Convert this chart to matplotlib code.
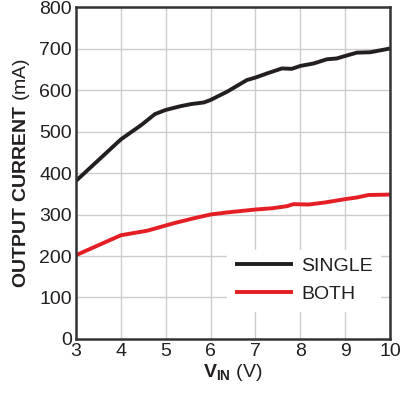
import matplotlib
matplotlib.use("Agg")
import matplotlib.pyplot as plt

plt.rcParams['font.family'] = ['Liberation Sans', 'DejaVu Sans']
plt.rcParams['mathtext.fontset'] = 'custom'
plt.rcParams['mathtext.rm'] = 'Liberation Sans'
plt.rcParams['mathtext.bf'] = 'Liberation Sans:bold'

single_v = [3.0, 4.0, 4.46, 4.76, 5.0, 5.33, 5.56, 5.85, 6.0, 6.37, 6.81, 7.0, 7.26, 7.59, 7.81, 8.0, 8.3, 8.59, 8.81, 9.0, 9.26, 9.56, 10.0]
single_i = [381, 481, 516, 542, 552, 561, 566, 570, 576, 596, 624, 630, 640, 652, 651, 658, 664, 674, 676, 682, 690, 691, 700]

both_v = [3.0, 4.0, 4.59, 5.18, 5.63, 6.0, 6.37, 7.0, 7.37, 7.7, 7.85, 8.18, 8.55, 9.0, 9.26, 9.52, 10.0]
both_i = [202, 250, 261, 279, 291, 300, 305, 312, 315, 320, 325, 324, 329, 337, 341, 347, 348]

xticks = [3, 4, 5, 6, 7, 8, 9, 10]
yticks = [0, 100, 200, 300, 400, 500, 600, 700, 800]

fig = plt.figure(figsize=(4.0, 3.94), dpi=100)
ax = fig.add_axes([0.19, 0.1396, 0.785, 0.8426])

ax.plot(single_v, single_i, color='#231f20', lw=2.8, label='SINGLE', solid_capstyle='butt')
ax.plot(both_v, both_i, color='#e31e24', lw=2.8, label='BOTH', solid_capstyle='butt')

ax.set_xlim(3, 10)
ax.set_ylim(0, 800)
ax.set_xticks(xticks)
ax.set_yticks(yticks)
ax.tick_params(length=0, labelsize=14, colors='#231f20', pad=3)
ax.grid(True, color='#cccccc', lw=1.0)
ax.set_axisbelow(True)
for s in ax.spines.values():
    s.set_color('#333333')
    s.set_linewidth(1.8)

ax.set_ylabel(r'$\mathbf{OUTPUT\ CURRENT}$ (mA)', fontsize=14, color='#231f20', labelpad=5)
ax.set_xlabel(r'$\mathbf{V_{IN}}$ (V)', fontsize=14, color='#231f20', labelpad=1)

leg = ax.legend(loc='lower right', bbox_to_anchor=(1.0, 0.055), frameon=True, fontsize=14,
                handlelength=3.0, handletextpad=0.4, borderpad=0.4, labelspacing=0.55)
leg.get_frame().set_edgecolor('white')
leg.get_frame().set_facecolor('white')
leg.get_frame().set_alpha(1.0)
leg.get_frame().set_boxstyle('square', pad=0)
for t in leg.get_texts():
    t.set_color('#231f20')

fig.savefig('out.png', dpi=100)
